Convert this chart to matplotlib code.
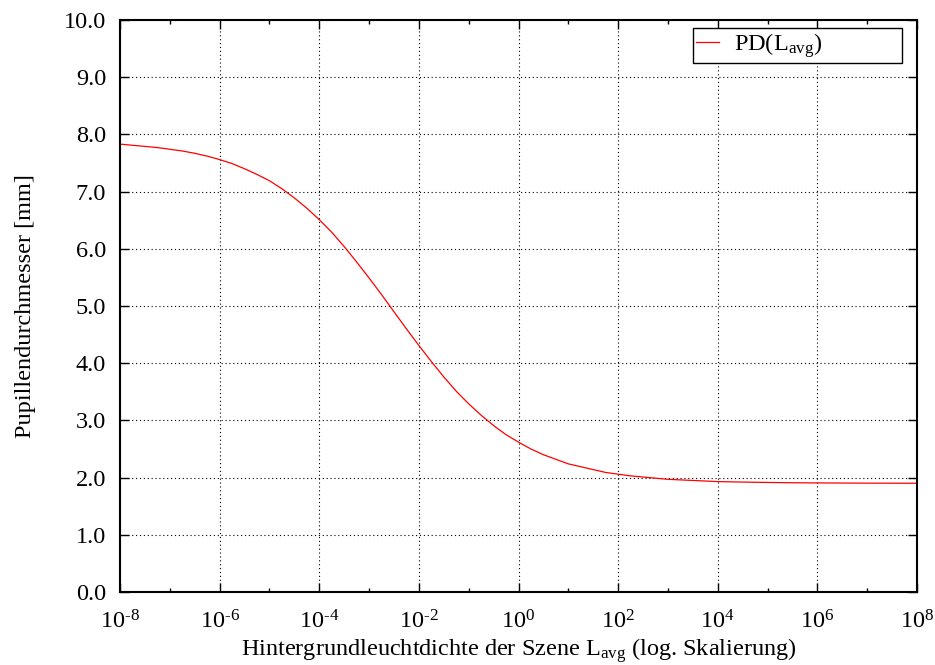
import numpy as np
import matplotlib
matplotlib.use("Agg")
import matplotlib.pyplot as plt
from matplotlib.ticker import FixedLocator, NullFormatter

plt.rcParams["font.family"] = ["Liberation Serif", "DejaVu Serif"]
plt.rcParams["mathtext.fontset"] = "custom"
plt.rcParams["mathtext.rm"] = "Liberation Serif"
plt.rcParams["mathtext.it"] = "Liberation Serif:italic"

# Background luminance (decimal exponents) and pupil diameter in mm
log_luminance = [-8.0, -7.75, -7.5, -7.25, -7.0, -6.75, -6.5, -6.25, -6.0, -5.75,
                 -5.5, -5.25, -5.0, -4.75, -4.5, -4.25, -4.0, -3.75, -3.5, -3.25,
                 -3.0, -2.75, -2.5, -2.25, -2.0, -1.75, -1.5, -1.25, -1.0, -0.75,
                 -0.5, -0.25, 0.0, 0.25, 0.5, 0.75, 1.0, 1.25, 1.5, 1.75,
                 2.0, 2.25, 2.5, 2.75, 3.0, 3.5, 4.0, 4.5, 5.0, 5.5,
                 6.0, 6.5, 7.0, 7.5, 8.0]
pupil_diameter = [7.83, 7.81, 7.79, 7.77, 7.74, 7.71, 7.67, 7.62, 7.56, 7.49,
                  7.40, 7.30, 7.19, 7.05, 6.89, 6.71, 6.51, 6.29, 6.04, 5.77,
                  5.49, 5.20, 4.90, 4.60, 4.31, 4.03, 3.76, 3.51, 3.29, 3.09,
                  2.91, 2.75, 2.62, 2.50, 2.40, 2.32, 2.24, 2.19, 2.14, 2.09,
                  2.06, 2.03, 2.01, 1.99, 1.97, 1.95, 1.93, 1.922, 1.915, 1.91,
                  1.907, 1.905, 1.903, 1.902, 1.901]

x_major_exp = [-8, -6, -4, -2, 0, 2, 4, 6, 8]
x_minor_exp = [-7, -5, -3, -1, 1, 3, 5, 7]
y_ticks = [0.0, 1.0, 2.0, 3.0, 4.0, 5.0, 6.0, 7.0, 8.0, 9.0, 10.0]

luminance = np.power(10.0, log_luminance)

FS = 17.5

fig = plt.figure(figsize=(9.35, 6.65), dpi=100)
ax = fig.add_axes([120 / 935, 73 / 665, 797 / 935, 572 / 665])

ax.plot(luminance, pupil_diameter, color="red", lw=0.9, label=r"PD(L$_\mathregular{avg}$)")

ax.set_xscale("log")
ax.set_xlim(1e-8, 1e8)
ax.set_ylim(0, 10)

ax.xaxis.set_major_locator(FixedLocator([10.0 ** e for e in x_major_exp]))
ax.xaxis.set_minor_locator(FixedLocator([10.0 ** e for e in x_minor_exp]))
ax.xaxis.set_minor_formatter(NullFormatter())
ax.set_xticklabels([r"$\mathregular{10^{%s}}$" % str(e).replace("-", "\u2010")
                    for e in x_major_exp])

ax.set_yticks(y_ticks)
ax.set_yticklabels(["%.1f" % v for v in y_ticks])

ax.tick_params(axis="both", which="major", direction="in", length=6.5, width=1.0,
               top=True, right=True, labelsize=FS, colors="black")
ax.tick_params(axis="both", which="minor", direction="in", length=3.2, width=1.0,
               top=True, right=True)
ax.tick_params(axis="y", which="major", pad=10)
ax.tick_params(axis="x", which="major", pad=13)

for s in ax.spines.values():
    s.set_linewidth(1.5)

ax.grid(True, which="major", color="black", linestyle=(0, (1, 2.5)), linewidth=0.8)

ax.set_xlabel(r"Hintergrundleuchtdichte der Szene L$_\mathregular{avg}$ (log. Skalierung)",
              fontsize=FS, labelpad=2)
ax.set_ylabel("Pupillendurchmesser [mm]", fontsize=FS, labelpad=20)

leg = ax.legend(loc="upper left", mode="expand", fontsize=FS, fancybox=False,
                framealpha=1, edgecolor="black", handlelength=0.95,
                handletextpad=0.6, borderpad=0.12, borderaxespad=0,
                bbox_to_anchor=(0.719, 0.932, 0.262, 0.054))
leg.get_frame().set_linewidth(1.0)

fig.savefig("out.png", dpi=100)
